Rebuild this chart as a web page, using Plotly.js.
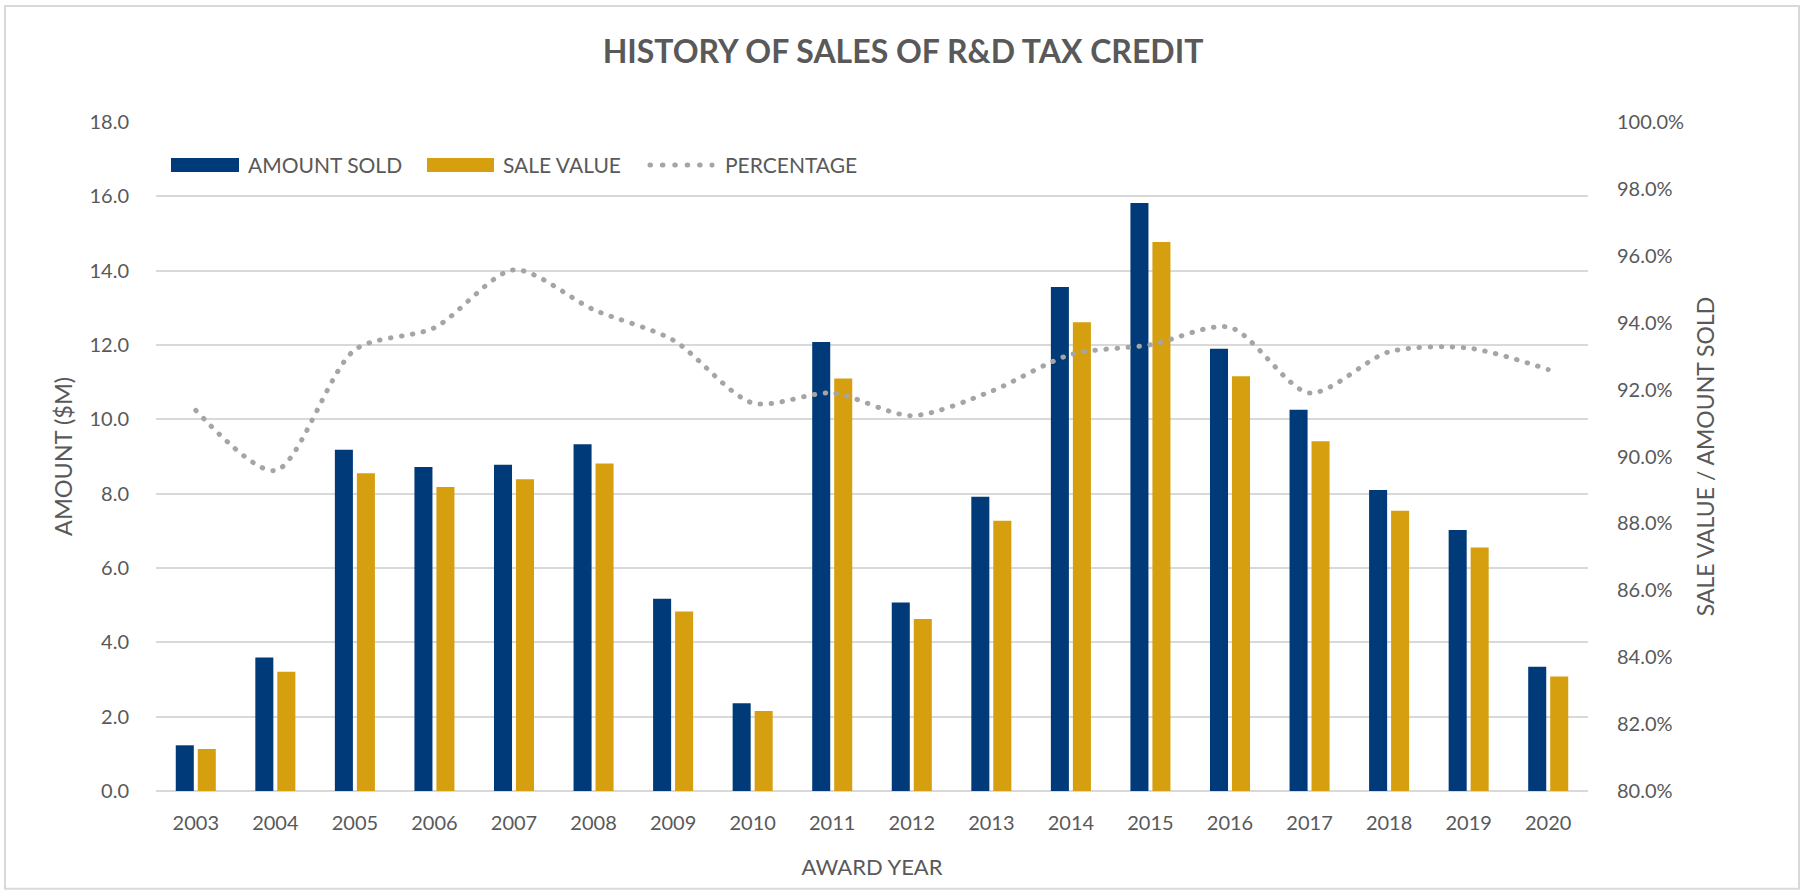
<!DOCTYPE html>
<html>
<head>
<meta charset="utf-8">
<script src="https://cdn.plot.ly/plotly-3.0.1.min.js"></script>
<style>
  html, body { margin: 0; padding: 0; background: #ffffff; }
  #chart { width: 1806px; height: 892px; }
  .scatterlayer .js-line { stroke-linecap: round; }
  .shapelayer path { stroke-linecap: round; }
</style>
</head>
<body>
<div id="chart"></div>
<script>
// ---- data ----
var years = ['2003','2004','2005','2006','2007','2008','2009','2010','2011','2012','2013','2014','2015','2016','2017','2018','2019','2020'];
var amountSold = [1.23, 3.59, 9.18, 8.72, 8.78, 9.33, 5.17, 2.36, 12.08, 5.07, 7.92, 13.56, 15.82, 11.90, 10.26, 8.10, 7.02, 3.34];
var saleValue  = [1.13, 3.21, 8.55, 8.18, 8.39, 8.81, 4.83, 2.15, 11.10, 4.63, 7.27, 12.61, 14.77, 11.16, 9.41, 7.54, 6.55, 3.08];
var percentage = [0.9138, 0.8958, 0.9319, 0.9385, 0.9558, 0.9439, 0.9348, 0.9160, 0.9190, 0.9122, 0.9195, 0.9305, 0.9334, 0.9386, 0.9190, 0.9313, 0.9324, 0.9260];
var seriesNames = ['AMOUNT SOLD', 'SALE VALUE', 'PERCENTAGE'];
var chartTitle = 'HISTORY OF SALES OF R&D TAX CREDIT';
var xTitle = 'AWARD YEAR';
var yTitle = 'AMOUNT ($M)';
var y2Title = 'SALE VALUE / AMOUNT SOLD';

// ---- style ----
var BLUE = '#003A78';
var GOLD = '#D59F0F';
var GRAY_LINE = '#A5A5A5';
var TEXT = '#595959';
var GRID = '#D9D9D9';
var FONT = 'Lato, "Open Sans", sans-serif';

var traces = [
  { type: 'bar', name: seriesNames[0], x: years, y: amountSold,
    marker: { color: BLUE }, showlegend: false, hoverinfo: 'x+y' },
  { type: 'bar', name: seriesNames[1], x: years, y: saleValue,
    marker: { color: GOLD }, showlegend: false, hoverinfo: 'x+y' },
  { type: 'scatter', mode: 'lines', name: seriesNames[2], x: years, y: percentage,
    yaxis: 'y2', line: { color: GRAY_LINE, width: 5, dash: '0.5px,10.5px', shape: 'spline', smoothing: 0.8 },
    showlegend: false }
];

// plot area in pixels: x 156..1588, y 122..791
var PL = 156, PR = 1588, PT = 122, PB = 791.3;
function px(x) { return (x - PL) / (PR - PL); }
function py(y) { return (PB - y) / (PB - PT); }

var legendY = py(165);
var shapes = [
  // outer border
  { type: 'rect', xref: 'paper', yref: 'paper', x0: px(5), x1: px(1799), y0: py(6), y1: py(889),
    line: { color: GRID, width: 2 }, fillcolor: 'rgba(0,0,0,0)', layer: 'below' },
  // legend swatches
  { type: 'rect', xref: 'paper', yref: 'paper', x0: px(171), x1: px(239), y0: py(172), y1: py(158),
    line: { width: 0 }, fillcolor: BLUE },
  { type: 'rect', xref: 'paper', yref: 'paper', x0: px(427), x1: px(494), y0: py(172), y1: py(158),
    line: { width: 0 }, fillcolor: GOLD },
  { type: 'line', xref: 'paper', yref: 'paper', x0: px(650), x1: px(712), y0: legendY, y1: legendY,
    line: { color: GRAY_LINE, width: 5, dash: '0.5px,11.9px' } }
];

var annotations = [
  { xref: 'paper', yref: 'paper', x: px(246), y: legendY, xanchor: 'left', yanchor: 'middle',
    text: seriesNames[0], showarrow: false, font: { family: FONT, size: 21, color: TEXT } },
  { xref: 'paper', yref: 'paper', x: px(501), y: legendY, xanchor: 'left', yanchor: 'middle',
    text: seriesNames[1], showarrow: false, font: { family: FONT, size: 21, color: TEXT } },
  { xref: 'paper', yref: 'paper', x: px(723), y: legendY, xanchor: 'left', yanchor: 'middle',
    text: seriesNames[2], showarrow: false, font: { family: FONT, size: 21, color: TEXT } }
];

var layout = {
  width: 1806, height: 892,
  paper_bgcolor: '#ffffff', plot_bgcolor: '#ffffff',
  margin: { l: PL, r: 1806 - PR, t: PT, b: 892 - PB, pad: 0 },
  font: { family: FONT, color: TEXT, size: 20 },
  title: { text: chartTitle, x: 0.5, xref: 'container', xanchor: 'center', y: 1 - 52 / 892, yref: 'container', yanchor: 'middle',
           font: { family: FONT, size: 32, color: TEXT, weight: 'bold' } },
  barmode: 'group', bargap: 0.447, bargroupgap: 0.18,
  showlegend: false,
  xaxis: { type: 'category', showgrid: false, zeroline: false, showline: false,
           ticks: 'outside', ticklen: 14, tickcolor: 'rgba(0,0,0,0)',
           tickfont: { family: FONT, size: 20, color: TEXT },
           title: { text: xTitle, standoff: 26, font: { family: FONT, size: 22, color: TEXT } } },
  yaxis: { range: [0, 18], dtick: 2, tickformat: '.1f', showgrid: true, gridcolor: GRID, gridwidth: 1.5,
           zeroline: true, zerolinecolor: GRID, zerolinewidth: 1.5, showline: false,
           ticks: 'outside', ticklen: 22, tickcolor: 'rgba(0,0,0,0)',
           tickfont: { family: FONT, size: 20, color: TEXT },
           title: { text: yTitle, standoff: 10, font: { family: FONT, size: 23.5, color: TEXT } } },
  yaxis2: { range: [0.8, 1.0], dtick: 0.02, tickformat: '.1%', overlaying: 'y', side: 'right',
            showgrid: false, zeroline: false, showline: false,
            ticks: 'outside', ticklen: 24, tickcolor: 'rgba(0,0,0,0)',
            tickfont: { family: FONT, size: 20, color: TEXT },
            title: { text: y2Title, standoff: 14, font: { family: FONT, size: 23, color: TEXT } } },
  shapes: shapes,
  annotations: annotations
};

Plotly.newPlot('chart', traces, layout, { displayModeBar: false, responsive: false });
</script>
</body>
</html>
